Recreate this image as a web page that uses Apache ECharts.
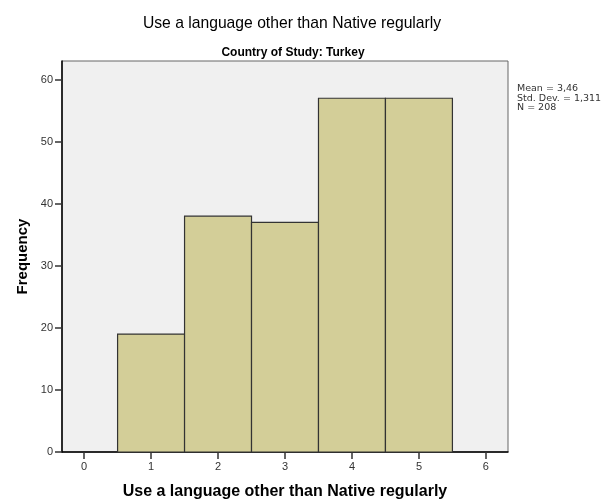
<!DOCTYPE html>
<html>
<head>
<meta charset="utf-8">
<script src="https://cdn.jsdelivr.net/npm/echarts@6/dist/echarts.min.js"></script>
<style>
  html, body { margin: 0; padding: 0; background: #fff; }
  #main { width: 615px; height: 499px; }
</style>
</head>
<body>
<div id="main"></div>
<script>
// histogram bins (center value) and counts
const binCenters = [1, 2, 3, 4, 5];
const counts = [19, 38, 37, 57, 57];
const xTicks = [0, 1, 2, 3, 4, 5, 6];
const yTicks = [0, 10, 20, 30, 40, 50, 60];
const statsLines = ['Mean = 3,46', 'Std. Dev. = 1,311', 'N = 208'];

const chart = echarts.init(document.getElementById('main'));
const font = 'Liberation Sans, Arial, sans-serif';

const option = {
  animation: false,
  textStyle: { fontFamily: font },
  title: [
    {
      text: 'Use a language other than Native regularly',
      left: 287, top: 11, textAlign: 'center',
      textStyle: { fontSize: 15.7, fontWeight: 'normal', color: '#000', fontFamily: font }
    },
    {
      text: 'Country of Study: Turkey',
      left: 288, top: 42, textAlign: 'center',
      textStyle: { fontSize: 12, fontWeight: 'bold', color: '#000', fontFamily: font }
    }
  ],
  graphic: [{
    type: 'text',
    left: 517, top: 84,
    style: { text: statsLines.join('\n'), fontSize: 9.5, lineHeight: 9.3, fill: '#333', fontFamily: 'DejaVu Sans' }
  }],
  grid: {
    left: 62, top: 61, right: 107, bottom: 47,
    outerBoundsMode: 'none',
    show: true, backgroundColor: '#f0f0f0', borderColor: '#666', borderWidth: 1
  },
  xAxis: {
    type: 'value', min: -0.33, max: 6.33,
    name: 'Use a language other than Native regularly',
    nameLocation: 'middle', nameGap: 32,
    nameTextStyle: { fontSize: 16, fontWeight: 'bold', color: '#000', fontFamily: font },
    splitLine: { show: false },
    axisLine: { show: true, onZero: false, lineStyle: { color: '#000', width: 1.5 } },
    axisTick: { show: true, length: 7, customValues: xTicks, lineStyle: { color: '#333', width: 1.5 } },
    axisLabel: { customValues: xTicks, fontSize: 11, color: '#333', margin: 9 }
  },
  yAxis: {
    type: 'value', min: 0, max: 63,
    name: 'Frequency',
    nameLocation: 'middle', nameGap: 32,
    nameTextStyle: { fontSize: 15, fontWeight: 'bold', color: '#000', fontFamily: font },
    splitLine: { show: false },
    axisLine: { show: true, onZero: false, lineStyle: { color: '#000', width: 1.5 } },
    axisTick: { show: true, length: 7, customValues: yTicks, lineStyle: { color: '#333', width: 1.5 } },
    axisLabel: { customValues: yTicks, fontSize: 11, color: '#333', margin: 9 }
  },
  series: [{
    type: 'custom',
    data: binCenters.map((c, i) => [c, counts[i]]),
    renderItem: function (params, api) {
      const x = api.value(0);
      const y = api.value(1);
      const p0 = api.coord([x - 0.5, y]);
      const p1 = api.coord([x + 0.5, 0]);
      return {
        type: 'rect',
        shape: { x: p0[0], y: p0[1], width: p1[0] - p0[0], height: p1[1] - p0[1] },
        style: { fill: '#d3ce98', stroke: '#333', lineWidth: 1.2 }
      };
    }
  }]
};

chart.setOption(option);
</script>
</body>
</html>
